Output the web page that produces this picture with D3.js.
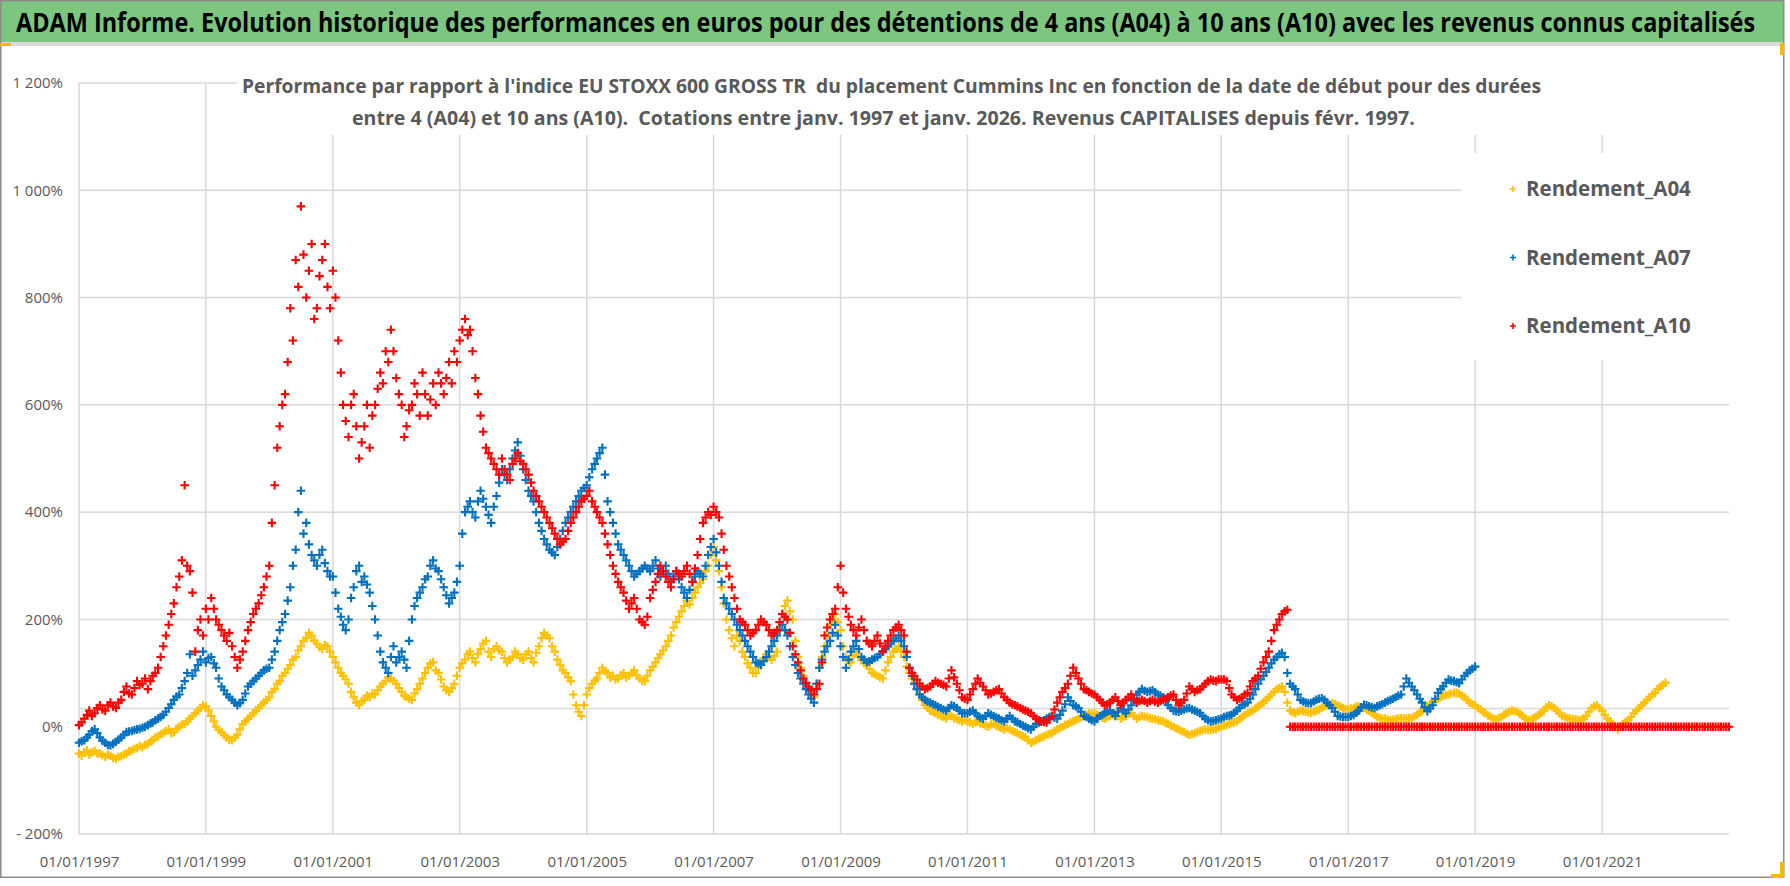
<!DOCTYPE html>
<html><head><meta charset="utf-8">
<script src="https://cdn.jsdelivr.net/npm/d3@7"></script>
<style>body{margin:0;background:#fff;} svg{display:block;} text{white-space:pre;}</style>
</head><body>
<svg id="chart" width="1790" height="886"></svg>
<script>
const titleText = "ADAM Informe. Evolution historique des performances en euros pour des détentions de 4 ans (A04) à 10 ans (A10) avec les revenus connus capitalisés";
const subtitleLines = [
  "Performance par rapport à l'indice EU STOXX 600 GROSS TR  du placement Cummins Inc en fonction de la date de début pour des durées",
  "entre 4 (A04) et 10 ans (A10).  Cotations entre janv. 1997 et janv. 2026. Revenus CAPITALISES depuis févr. 1997."
];
const seriesNames = ["Rendement_A04", "Rendement_A07", "Rendement_A10"];
const seriesColors = ["#FFC000", "#0070C0", "#FF0000"];
const firstMonth = [1997, 0]; // two readings per month (1st and 16th), starting 1 Jan 1997

// Rendement_A04 (%), 1 Jan 1997 .. 1 Jan 2022
const A04 = [
  -50,-54,-47,-44,-52,-48,-45,-50,-50,-53,-56,-52,-54,-58,-60,-56,-55,-52,-50,-46,-44,-41,-40,-36,
  -38,-34,-32,-28,-25,-20,-18,-14,-12,-8,-5,-12,-10,-4,0,4,5,10,15,20,25,30,35,40,
  38,30,20,10,0,-6,-10,-16,-20,-24,-25,-20,-15,-5,5,10,15,20,25,30,35,40,45,50,
  55,65,70,80,85,95,100,108,115,125,130,142,150,160,165,175,170,160,155,148,145,152,150,140,
  130,120,110,100,95,88,80,65,55,45,40,48,50,58,55,62,60,68,75,80,85,92,90,85,
  80,72,65,58,55,52,50,62,70,80,90,100,110,118,120,105,100,88,75,68,65,72,80,95,
  110,118,125,135,140,128,120,135,145,155,160,140,130,145,150,142,140,128,120,125,130,140,135,128,
  125,135,140,128,120,138,150,165,175,170,165,150,140,125,115,105,100,92,85,60,40,28,20,40,
  60,72,80,86,90,100,110,104,100,92,95,88,90,96,100,92,95,100,105,96,90,86,85,95,
  105,112,120,128,135,142,150,160,170,185,195,205,215,225,235,228,240,250,260,268,275,290,300,320,
  335,310,290,260,230,200,180,165,150,170,160,140,130,118,110,100,100,110,120,128,135,130,125,132,
  140,180,210,225,235,215,200,160,130,110,95,80,70,60,55,80,110,130,150,170,190,200,210,195,
  180,150,130,122,120,132,140,130,125,118,115,108,100,98,95,92,90,105,120,130,140,145,150,140,
  130,112,100,90,80,70,60,50,40,35,30,28,25,22,20,18,15,22,20,16,15,12,10,12,
  10,8,5,8,10,6,5,2,0,4,5,2,0,-3,-5,-2,-5,-8,-10,-12,-15,-18,-20,-25,
  -30,-28,-25,-22,-20,-18,-15,-14,-12,-8,-5,-2,0,3,5,8,10,12,15,18,20,22,25,24,
  25,22,20,17,15,18,20,23,25,20,15,18,20,24,25,20,15,18,20,19,18,16,15,14,
  12,11,10,7,5,2,0,-3,-5,-8,-10,-13,-15,-14,-12,-10,-8,-6,-5,-6,-6,-5,-4,-2,
  0,2,3,5,7,8,10,14,18,22,25,28,30,34,38,42,45,50,55,60,65,70,72,75,
  65,45,30,27,25,28,30,29,28,27,26,28,30,32,35,38,40,42,44,42,40,38,35,33,
  32,34,35,37,38,36,35,32,30,26,22,18,16,15,15,13,12,13,14,15,16,15,15,16,
  16,19,22,26,30,34,38,42,45,48,52,55,58,59,60,62,63,63,62,58,55,50,45,42,
  40,35,32,28,25,21,18,15,14,16,18,22,25,28,30,29,28,24,20,15,12,13,15,18,
  22,26,30,36,40,38,35,30,25,20,18,16,15,14,14,13,12,15,20,28,35,38,40,35,
  30,22,15,10,5,0,-5,0,5,9,13,18,25,30,35,40,45,50,55,60,63,70,75,78,
  82
];
// Rendement_A07 (%), 1 Jan 1997 .. 1 Jan 2019
const A07 = [
  -30,-27,-25,-20,-15,-8,-5,-12,-20,-26,-30,-34,-35,-32,-28,-24,-20,-15,-10,-9,-8,-6,-5,-4,
  -2,0,3,6,8,12,15,18,22,28,35,42,50,56,60,72,85,100,135,95,105,115,125,140,
  120,128,130,118,110,90,75,68,60,55,50,45,40,44,50,62,75,80,85,90,95,100,105,108,
  110,125,140,160,180,195,210,235,260,300,330,400,440,360,380,340,320,310,300,320,330,305,290,280,
  280,250,220,205,190,180,200,240,260,290,300,270,280,265,250,225,200,170,140,120,110,100,130,150,
  120,130,140,125,110,160,200,225,240,250,260,275,280,300,310,295,290,275,260,245,230,240,250,270,
  300,360,400,410,420,400,390,420,440,425,410,395,380,410,430,455,480,470,460,480,500,515,530,505,
  480,460,440,430,420,400,380,365,350,340,330,325,320,335,350,365,380,390,400,410,420,430,440,445,
  450,465,480,490,500,510,520,470,420,400,380,360,340,330,320,310,300,290,280,285,290,295,300,295,
  290,300,310,295,280,290,300,285,270,280,290,275,260,250,240,255,270,280,290,285,280,300,320,335,
  350,325,300,270,240,230,220,210,200,190,180,170,160,150,140,130,120,118,115,122,130,140,150,160,
  170,180,190,180,170,150,130,115,100,90,80,70,60,52,45,80,110,125,140,150,160,175,190,170,
  150,130,110,125,140,150,160,145,130,125,120,122,125,128,130,135,140,145,150,155,160,165,170,160,
  150,130,110,95,80,70,60,55,50,47,45,42,40,37,35,32,30,35,40,38,35,30,25,25,
  25,28,30,25,20,17,15,20,25,22,20,17,15,12,10,15,20,15,10,8,5,2,0,-3,
  -5,0,5,8,10,12,15,18,20,17,15,22,30,42,55,48,40,38,35,28,20,18,15,12,
  10,15,20,22,25,28,30,25,20,28,35,30,25,32,40,50,60,65,70,67,65,66,68,64,
  60,58,55,48,40,35,30,29,28,30,32,34,35,32,30,28,25,20,15,12,10,11,12,14,
  15,18,20,21,22,26,30,35,40,42,45,52,60,70,80,88,95,102,110,118,125,130,135,138,
  130,100,80,75,70,60,50,47,45,44,44,47,50,52,53,50,45,40,35,28,20,19,18,18,
  18,20,22,26,30,36,41,40,38,36,35,38,40,42,45,48,50,52,55,58,60,75,90,82,
  75,68,60,52,45,36,29,34,40,52,63,70,75,82,88,86,85,83,81,88,95,100,105,108,
  112
];
// Rendement_A10 (%), 1 Jan 1997 .. 1 Jan 2023 (zero from Feb 2016)
const A10 = [
  3,8,15,22,30,20,25,35,40,32,30,40,45,38,35,45,50,65,75,62,60,72,85,78,
  80,90,70,85,95,100,110,130,150,170,190,210,230,260,280,310,450,300,290,250,140,180,200,170,
  220,200,240,220,200,190,180,170,160,175,150,130,110,125,140,160,180,195,210,220,230,245,260,280,
  300,380,450,520,560,600,620,680,780,720,870,820,970,880,800,850,900,760,780,840,870,900,820,780,
  850,800,720,660,600,570,540,600,620,560,500,530,560,600,520,580,600,630,660,640,700,680,740,700,
  650,620,600,540,560,590,600,640,620,580,660,620,580,610,640,600,660,640,620,650,680,640,700,680,
  720,740,760,730,740,700,650,620,580,550,520,510,500,490,480,470,500,480,470,460,490,500,510,495,
  490,480,470,455,440,430,420,410,400,390,380,370,360,350,340,345,350,365,380,390,400,410,420,425,
  430,440,420,410,400,390,380,360,340,320,300,285,270,260,250,235,220,230,240,220,200,195,190,205,
  240,255,270,285,300,290,280,270,260,275,290,285,280,290,300,285,270,295,320,350,380,390,400,395,
  410,400,390,360,330,300,280,260,240,220,200,195,190,180,170,175,180,190,200,195,190,180,170,175,
  180,195,210,205,200,175,150,135,120,105,90,82,75,68,60,70,80,120,170,185,200,210,220,260,
  300,250,220,205,190,180,170,185,200,180,160,155,150,160,170,155,140,150,160,170,180,185,190,180,
  170,140,110,100,95,88,80,75,70,72,75,80,85,82,80,78,75,90,105,92,80,68,55,52,
  50,60,70,80,90,82,75,68,60,62,65,68,70,62,55,50,45,42,40,38,35,32,30,28,
  25,20,15,12,10,9,8,14,20,32,45,55,65,72,80,95,110,100,90,80,70,68,65,62,
  60,55,50,45,40,42,45,50,55,48,40,45,50,55,60,52,45,48,50,48,45,48,50,47,
  45,48,50,52,55,58,60,50,40,45,50,62,75,70,65,68,70,75,80,85,88,86,85,88,
  88,88,85,72,60,55,50,52,55,60,63,75,85,90,95,108,120,130,140,160,180,190,200,210,
  215,218,0,0,0,0,0,0,0,0,0,0,0,0,0,0,0,0,0,0,0,0,0,0,
  0,0,0,0,0,0,0,0,0,0,0,0,0,0,0,0,0,0,0,0,0,0,0,0,
  0,0,0,0,0,0,0,0,0,0,0,0,0,0,0,0,0,0,0,0,0,0,0,0,
  0,0,0,0,0,0,0,0,0,0,0,0,0,0,0,0,0,0,0,0,0,0,0,0,
  0,0,0,0,0,0,0,0,0,0,0,0,0,0,0,0,0,0,0,0,0,0,0,0,
  0,0,0,0,0,0,0,0,0,0,0,0,0,0,0,0,0,0,0,0,0,0,0,0,
  0,0,0,0,0,0,0,0,0,0,0,0,0,0,0,0,0,0,0,0,0,0,0,0,
  0
];
const xTickYears = [1997,1999,2001,2003,2005,2007,2009,2011,2013,2015,2017,2019,2021];
const xDomainYears = [1997, 2023];
const yTickValues = [-200,0,200,400,600,800,1000,1200];
const yGridValues = [-200,200,400,600,800,1000,1200];
const axisCrossValue = 34;

const W = 1790, H = 886;
const svg = d3.select("#chart");
const gridColor = "#d9d9d9", labelColor = "#595959";
const fontFam = "'Open Sans', 'Liberation Sans', sans-serif";
const plot = {left: 79, right: 1729, top: 83, bottom: 834};

svg.append("rect").attr("width", W).attr("height", H).attr("fill", "#fff");

const x = d3.scaleTime()
  .domain(xDomainYears.map(yv => new Date(yv, 0, 1)))
  .range([plot.left, plot.right]);
const y = d3.scaleLinear().domain([-200, 1200]).range([plot.bottom, plot.top]);

// gridlines
const grid = svg.append("g");
grid.selectAll("line.v").data(xTickYears).join("line")
  .attr("x1", d => x(new Date(d,0,1))).attr("x2", d => x(new Date(d,0,1)))
  .attr("y1", plot.top).attr("y2", plot.bottom)
  .attr("stroke", gridColor).attr("stroke-width", 1.5);
grid.selectAll("line.h").data(yGridValues.concat([axisCrossValue])).join("line")
  .attr("x1", plot.left).attr("x2", plot.right)
  .attr("y1", d => y(d)).attr("y2", d => y(d))
  .attr("stroke", gridColor).attr("stroke-width", 1.5);

// axes labels
const frLocale = d3.formatLocale({decimal: ",", thousands: "\u00a0", grouping: [3], currency: ["", " €"]});
const fmtInt = frLocale.format(",d");
const yAxis = d3.axisLeft(y).tickValues(yTickValues).tickSize(0).tickPadding(16)
  .tickFormat(v => (v < 0 ? "- " : "") + fmtInt(Math.abs(v)) + "%");
const gy = svg.append("g").attr("transform", `translate(${plot.left},0)`).call(yAxis);
gy.select(".domain").remove();
gy.selectAll("text").attr("font-family", fontFam).attr("font-size", 15).attr("fill", labelColor);

const xAxis = d3.axisBottom(x).tickValues(xTickYears.map(yv => new Date(yv,0,1)))
  .tickSize(0).tickPadding(22).tickFormat(d3.timeFormat("%d/%m/%Y"));
const gx = svg.append("g").attr("transform", `translate(0,${plot.bottom})`).call(xAxis);
gx.select(".domain").remove();
gx.selectAll("text").attr("font-family", fontFam).attr("font-size", 15).attr("fill", labelColor);

// horizontally fitted text helper
function fittedText(parent, str, x0, yBase, width, size, color) {
  const t = parent.append("text").attr("x", 0).attr("y", 0)
    .attr("font-family", fontFam).attr("font-weight", "bold").attr("font-size", size)
    .attr("fill", color).text(str);
  const natural = t.node().getComputedTextLength();
  const sx = width / natural;
  t.attr("transform", `translate(${x0},${yBase}) scale(${sx},1)`);
  return t;
}

// subtitle box
svg.append("rect").attr("x", 237).attr("y", 58).attr("width", plot.right - 237).attr("height", 77).attr("fill", "#fff");
const subG = svg.append("g");
fittedText(subG, subtitleLines[0], 242, 93, 1300, 20, labelColor);
fittedText(subG, subtitleLines[1], 352, 125, 1063, 20, labelColor);

// legend box
svg.append("rect").attr("x", 1462).attr("y", 153).attr("width", plot.right - 1462).attr("height", 207).attr("fill", "#fff");

// data
const plus = "M-4.3,0H4.3M0,-4.3V4.3";
const seriesData = [A04, A07, A10];
const start = new Date(firstMonth[0], firstMonth[1], 1);
seriesData.forEach((vals, si) => {
  const pts = vals.map((v, i) => {
    const d = d3.timeMonth.offset(start, Math.floor(i / 2));
    if (i % 2) d.setDate(16);
    return {date: d, value: v};
  });
  svg.append("g").selectAll("path").data(pts).join("path")
    .attr("d", plus)
    .attr("transform", d => `translate(${x(d.date)},${y(d.value)})`)
    .attr("stroke", seriesColors[si]).attr("stroke-width", 2.1).attr("fill", "none");
});

// legend
const lg = svg.append("g");
seriesNames.forEach((name, i) => {
  const cy = 189 + i * 68.5;
  lg.append("path").attr("d", "M-3,0H3M0,-3V3").attr("transform", `translate(1513,${cy})`)
    .attr("stroke", seriesColors[i]).attr("stroke-width", 1.6);
  lg.append("text").attr("x", 1526).attr("y", cy).attr("dy", "0.36em")
    .attr("font-family", fontFam).attr("font-weight", "bold").attr("font-size", 20.5)
    .attr("fill", labelColor).text(name);
});

// title banner
svg.append("rect").attr("x", 0).attr("y", 0).attr("width", 1784).attr("height", 42).attr("fill", "#7dc67f");
svg.append("rect").attr("x", 0).attr("y", 42).attr("width", 1784).attr("height", 4).attr("fill", "#d9d9d9");
fittedText(svg.append("g"), titleText, 16, 32, 1740, 27, "#000");

// outer frame
svg.append("rect").attr("x", 0.75).attr("y", 0.75).attr("width", 1783).attr("height", 876.5)
  .attr("fill", "none").attr("stroke", "#8c8c8c").attr("stroke-width", 1.5);
// selection handles
svg.append("rect").attr("x", 0).attr("y", 43).attr("width", 11).attr("height", 3).attr("fill", "#f5b800");
svg.append("rect").attr("x", 1780).attr("y", 43).attr("width", 4).attr("height", 12).attr("fill", "#f5b800");
svg.append("rect").attr("x", 1771).attr("y", 874).attr("width", 13).attr("height", 4).attr("fill", "#f5b800");
svg.append("rect").attr("x", 1780).attr("y", 862).attr("width", 4).attr("height", 16).attr("fill", "#f5b800");
</script>
</body></html>
